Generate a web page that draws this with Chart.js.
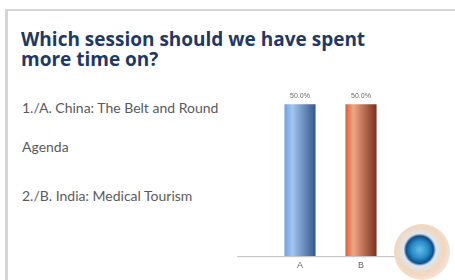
<!DOCTYPE html>
<html>
<head>
<meta charset="utf-8">
<script src="https://cdn.jsdelivr.net/npm/chart.js@4.4.1/dist/chart.umd.min.js"></script>
<style>
  html, body { margin: 0; padding: 0; background: #fff; }
  body { width: 455px; height: 280px; position: relative; overflow: hidden; }
  #frame { position: absolute; left: 5px; top: 9px; right: 0; bottom: 0;
    border-top: 2px solid #d6d6d6; border-left: 3px solid #d6d6d6; background: #fff; }
  #title { position: absolute; left: 21px; top: 29px; font-family: "Open Sans", sans-serif;
    font-weight: 700; font-size: 19px; line-height: 20px; color: #1f3864; }
  .opt { position: absolute; left: 22px; font-family: Lato, sans-serif; font-size: 14px; color: #5a5a5a; }
  #chartBox { position: absolute; left: 230px; top: 74px; width: 200px; height: 201px; }
  #logo { position: absolute; left: 394px; top: 224px; width: 56px; height: 56px; border-radius: 50%;
    background: radial-gradient(circle at 46% 46%, #62bde8 0%, #2a8cc8 20%, #0d4f8a 32%, #dde6ee 38%, #f3d6bc 56%, #f2e8de 76%, #fbf8f4 100%); }
</style>
</head>
<body>
<div id="frame"></div>
<div id="title">Which session should we have spent<br>more time on?</div>
<div class="opt" style="top:99px">1./A. China: The Belt and Round</div>
<div class="opt" style="top:138px">Agenda</div>
<div class="opt" style="top:187px">2./B. India: Medical Tourism</div>
<div id="chartBox"><canvas id="chart"></canvas></div>
<div id="logo"></div>
<script>
const categories = ['A', 'B'];
const shares = [50.0, 50.0];
const valueLabels = ['50.0%', '50.0%'];

const barColors = [
  ['#6d9fe0', '#a3c6f2', '#34578a'],
  ['#d2643c', '#f3a584', '#77301c']
];
const barPct = 0.51;

function barGradient(ctx) {
  const stops = barColors[ctx.dataIndex];
  const x = ctx.chart.scales.x;
  if (!x || !x.width) return stops[1];
  const cx = x.getPixelForValue(ctx.dataIndex);
  const half = (x.width / categories.length) * barPct / 2;
  const g = ctx.chart.ctx.createLinearGradient(cx - half, 0, cx + half, 0);
  g.addColorStop(0, stops[0]);
  g.addColorStop(0.25, stops[1]);
  g.addColorStop(1, stops[2]);
  return g;
}

const axisAndLabels = {
  id: 'axisAndLabels',
  afterDatasetsDraw(chart) {
    const ctx = chart.ctx;
    const x = chart.scales.x;
    const cw = (x.right - x.left) / categories.length;
    const yb = chart.chartArea.bottom;
    ctx.save();
    ctx.strokeStyle = '#bcbcbc';
    ctx.lineWidth = 1;
    ctx.beginPath();
    ctx.moveTo(x.left - cw * 0.53, yb + 0.5);
    ctx.lineTo(x.right + cw * 0.4, yb + 0.5);
    ctx.stroke();
    ctx.font = '7px "Liberation Sans", sans-serif';
    ctx.fillStyle = '#666';
    ctx.textAlign = 'center';
    ctx.textBaseline = 'bottom';
    chart.getDatasetMeta(0).data.forEach((bar, i) => {
      ctx.fillText(valueLabels[i], bar.x, bar.y - 5);
    });
    ctx.restore();
  }
};

new Chart(document.getElementById('chart'), {
  type: 'bar',
  data: {
    labels: categories,
    datasets: [{
      data: shares,
      backgroundColor: barGradient,
      borderWidth: 0,
      barPercentage: barPct,
      categoryPercentage: 1
    }]
  },
  options: {
    responsive: true,
    maintainAspectRatio: false,
    animation: false,
    layout: { padding: { left: 39.5, right: 38.5, top: 0, bottom: 0 } },
    plugins: { legend: { display: false }, tooltip: { enabled: false } },
    scales: {
      x: {
        grid: { display: false, drawTicks: false },
        border: { display: false },
        ticks: { color: '#666', font: { size: 9, family: 'Liberation Sans' }, padding: 4 }
      },
      y: { display: false, min: 0, max: 60 }
    }
  },
  plugins: [axisAndLabels]
});
</script>
</body>
</html>
